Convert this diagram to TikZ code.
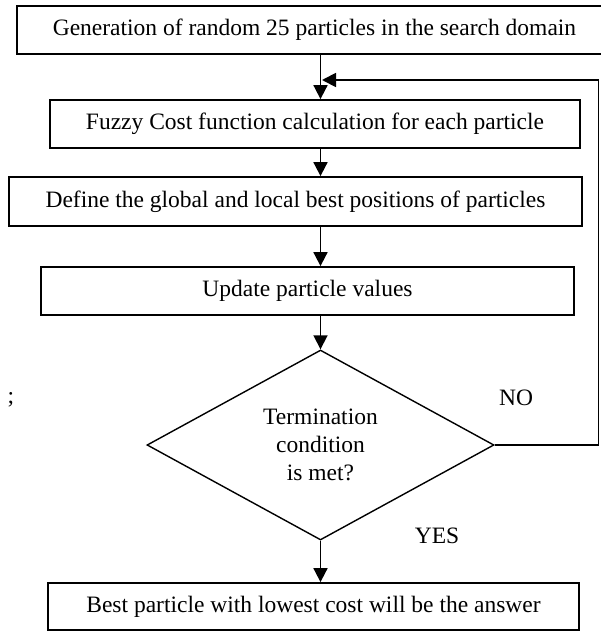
\documentclass[tikz,border=0pt]{standalone}
\usepackage{fontspec}
\setmainfont{Liberation Serif}
\usetikzlibrary{shapes.geometric,arrows.meta}
\begin{document}
\begin{tikzpicture}[x=1pt,y=-1pt,
  every node/.style={font=\fontsize{23.5}{28}\selectfont},
  procbox/.style={draw,line width=1.8pt,rectangle,inner sep=0pt,anchor=center},
  decision/.style={draw,line width=1.4pt,diamond,inner sep=0pt,align=center,minimum width=347pt,minimum height=190pt,aspect=1.826},
  arr/.style={line width=1.8pt,-{Triangle[length=14pt,width=14pt]}},
  lbl/.style={inner sep=0pt,anchor=center}]
\useasboundingbox (0,0) rectangle (601,631);
\node[procbox,minimum width=595pt,minimum height=48pt] (b1) at (314.5,30) {Generation of random 25 particles in the search domain};
\node[procbox,minimum width=530pt,minimum height=48pt] (b2) at (315,124) {Fuzzy Cost function calculation for each particle};
\node[procbox,minimum width=573pt,minimum height=49pt] (b3) at (295.5,201.5) {Define the global and local best positions of particles};
\node[procbox,minimum width=533pt,minimum height=48pt] (b4) at (307.5,291) {Update particle values};
\node[decision] (d) at (320.5,445) {Termination\\condition\\is met?};
\node[procbox,minimum width=531pt,minimum height=47pt] (b5) at (313.5,606.5) {Best particle with lowest cost will be the answer};
\node[lbl] (semi) at (11,400) {;};
\node[lbl] (no) at (516,398) {NO};
\node[lbl] (yes) at (437,536) {YES};
\coordinate (fbend) at (322,80);
\coordinate (rt) at (598.5,445);
\draw[arr] (b1.south -| d.north) -- (b2.north -| d.north);
\draw[arr] (b2.south -| d.north) -- (b3.north -| d.north);
\draw[arr] (b3.south -| d.north) -- (b4.north -| d.north);
\draw[arr] (b4.south -| d.north) -- (d.north);
\draw[arr] (d.south) -- (b5.north -| d.south);
\draw[arr] (d.east) -- (rt) |- (fbend);
\end{tikzpicture}
\end{document}
